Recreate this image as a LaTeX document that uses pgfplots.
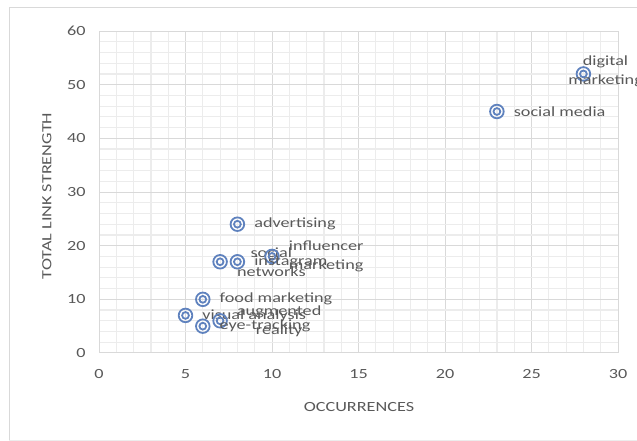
\documentclass[border=0pt]{standalone}
\usepackage{pgfplots}
\pgfplotsset{compat=1.18}
\usepackage{fontspec}
\setmainfont[FakeStretch=1.3]{Carlito}

\definecolor{textgray}{RGB}{89,89,89}
\definecolor{majorgrid}{RGB}{217,217,217}
\definecolor{minorgrid}{RGB}{236,236,236}
\definecolor{markblue}{RGB}{95,130,190}

% double-ring marker
\pgfdeclareplotmark{ring2}{%
  \pgfpathcircle{\pgfpointorigin}{6.8bp}\pgfusepathqstroke
  \pgfpathcircle{\pgfpointorigin}{3.4bp}\pgfusepathqstroke}

\newcommand{\lblfont}{\fontsize{14bp}{19bp}\selectfont}

\begin{document}
\begin{tikzpicture}
\useasboundingbox (0,0) rectangle (637bp,441bp);
% chart frame
\draw[draw=majorgrid, line width=1bp] (9bp,0) -- (9bp,433.5bp) -- (637bp,433.5bp);
\draw[draw=minorgrid, line width=0.8bp] (9bp,1bp) -- (637bp,1bp);

\begin{axis}[
  at={(99bp,88bp)}, anchor=south west,
  scale only axis, width=519bp, height=322bp,
  xmin=0, xmax=30, ymin=0, ymax=60,
  xtick={0,5,...,30}, ytick={0,10,...,60},
  minor x tick num=4, minor y tick num=4,
  grid=both,
  major grid style={draw=majorgrid, line width=1bp},
  minor grid style={draw=minorgrid, line width=1.2bp},
  axis line style={draw=majorgrid, line width=1bp},
  tick style={draw=none},
  /pgf/number format/assume math mode=true,
  ticklabel style={font=\lblfont, text=textgray},
  xticklabel style={yshift=-13bp},
  yticklabel style={xshift=-10bp},
  clip=false,
  point meta=explicit symbolic,
  nodes near coords,
  every node near coord/.append style={anchor=west, xshift=16bp,
    font=\lblfont, text=textgray, align=center, inner sep=0pt},
]
\addplot[only marks, mark=ring2, mark options={draw=markblue, line width=1.8bp}]
  coordinates {
    (23,45) [social media]
    (8,24)  [advertising]
    (7,17)  [{social\\networks}]
    (10,18) [{influencer\\marketing}]
    (8,17)  [instagram]
    (6,10)  [food marketing]
    (5,7)   [visual analysis]
    (7,6)   [{augmented\\reality}]
    (6,5)   [eye-tracking]
  };
\addplot[only marks, mark=ring2, mark options={draw=markblue, line width=1.8bp},
  every node near coord/.append style={xshift=-32bp, yshift=2.5bp}]
  coordinates {
    (28,52) [{digital\\marketing}]
  };
\end{axis}

\node[font=\lblfont, text=textgray] at (359bp,34bp) {OCCURRENCES};
\node[font=\lblfont, text=textgray, rotate=90] at (47bp,245bp) {TOTAL LINK STRENGTH};
\end{tikzpicture}
\end{document}
